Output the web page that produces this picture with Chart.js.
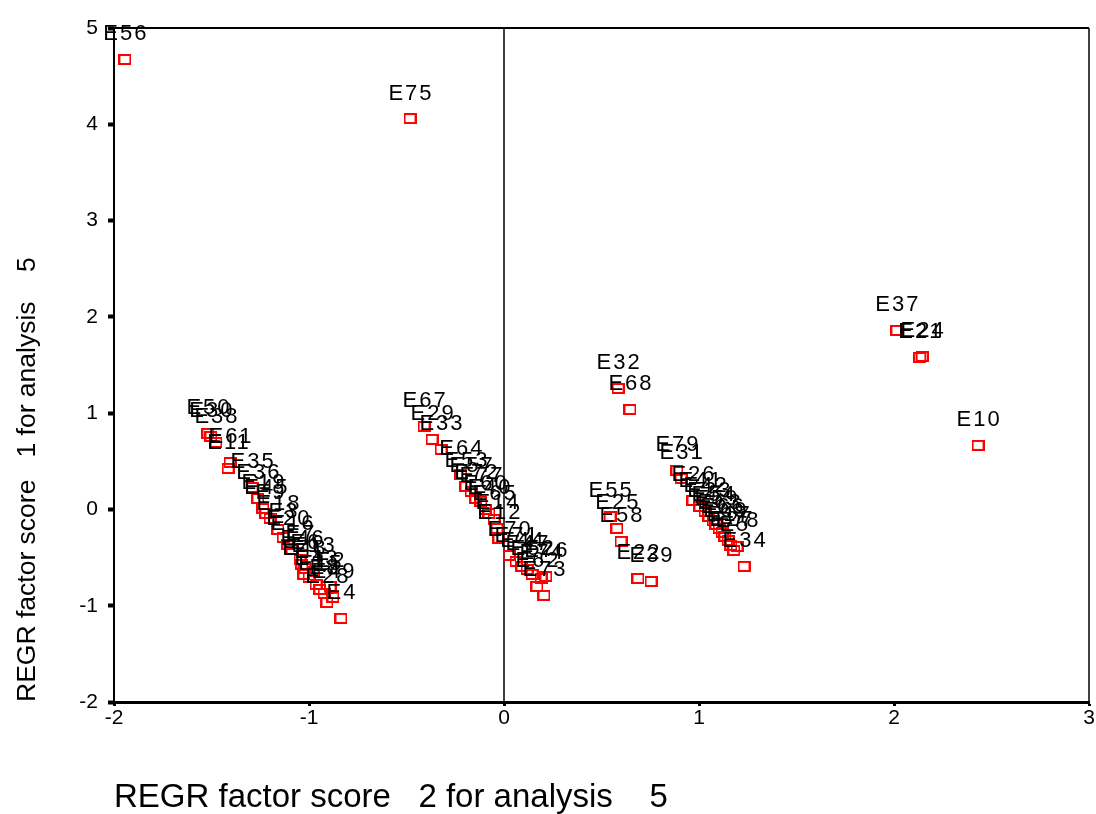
<!DOCTYPE html>
<html>
<head>
<meta charset="utf-8">
<title>REGR factor scores</title>
<script src="https://cdn.jsdelivr.net/npm/chart.js@4"></script>
<style>
    html, body { margin: 0; padding: 0; background: #ffffff; }
    #wrap { width: 1096px; height: 814px; }
</style>
</head>
<body>
<div id="wrap"><canvas id="scoreChart" width="1096" height="814"></canvas></div>
<script>
// case labels and factor scores (factor 2 on x, factor 1 on y)
const caseLabels = [
    'E56', 'E75', 'E37', 'E21', 'E24', 'E10', 'E32', 'E68',
    'E50', 'E30', 'E38', 'E61', 'E11', 'E35', 'E36', 'E19', 'E45', 'E9',
    'E18', 'E3', 'E20', 'E16', 'E7', 'E46', 'E6', 'E48', 'E1', 'E13',
    'E43', 'E15', 'E8', 'E28', 'E4', 'E49', 'E2',
    'E67', 'E29', 'E33', 'E64', 'E53', 'E57', 'E72', 'E77', 'E60', 'E40',
    'E65', 'E14', 'E12', 'E70', 'E71', 'E44', 'E47', 'E52', 'E62', 'E73',
    'E74', 'E76',
    'E55', 'E25', 'E58', 'E22', 'E39',
    'E79', 'E31', 'E26', 'E41', 'E42', 'E23', 'E54', 'E59', 'E63', 'E66',
    'E69', 'E17', 'E27', 'E5', 'E78', 'E34'
];

const factor2Scores = [
    -1.944, -0.482, 2.015, 2.133, 2.144, 2.431, 0.585, 0.646,
    -1.518, -1.503, -1.477, -1.405, -1.415, -1.292, -1.262, -1.236, -1.221, -1.200,
    -1.159, -1.133, -1.108, -1.087, -1.046, -1.036, -1.021, -1.026, -1.000, -0.979,
    -0.964, -0.944, -0.923, -0.908, -0.836, -0.877, -0.892,
    -0.410, -0.369, -0.323, -0.221, -0.195, -0.169, -0.144, -0.118, -0.097, -0.077,
    -0.051, -0.036, -0.026, 0.026, 0.062, 0.092, 0.118, 0.144, 0.169, 0.205,
    0.190, 0.215,
    0.544, 0.579, 0.600, 0.687, 0.754,
    0.887, 0.908, 0.969, 1.005, 1.031, 1.051, 1.072, 1.087, 1.103, 1.118,
    1.133, 1.149, 1.164, 1.179, 1.195, 1.231
];

const factor1Scores = [
    4.673, 4.060, 1.859, 1.578, 1.589, 0.665, 1.256, 1.038,
    0.789, 0.758, 0.696, 0.488, 0.426, 0.228, 0.114, 0.010, -0.042, -0.093,
    -0.208, -0.291, -0.363, -0.415, -0.519, -0.571, -0.613, -0.675, -0.706, -0.644,
    -0.779, -0.831, -0.872, -0.966, -1.132, -0.914, -0.800,
    0.862, 0.727, 0.623, 0.363, 0.239, 0.187, 0.114, 0.083, 0.000, -0.042,
    -0.104, -0.197, -0.301, -0.478, -0.540, -0.592, -0.623, -0.675, -0.800, -0.893,
    -0.717, -0.696,
    -0.073, -0.197, -0.332, -0.717, -0.748,
    0.405, 0.322, 0.093, 0.031, -0.021, -0.073, -0.114, -0.156, -0.197, -0.239,
    -0.280, -0.322, -0.374, -0.426, -0.384, -0.592
];

const xTicks = [-2, -1, 0, 1, 2, 3];
const yTicks = [-2, -1, 0, 1, 2, 3, 4, 5];

const xTitle = 'REGR factor score   2 for analysis    5';
const yTitle = 'REGR factor score   1 for analysis    5';

const points = factor2Scores.map((x, i) => ({ x: x, y: factor1Scores[i] }));

// hollow red box marker
const marker = document.createElement('canvas');
marker.width = 13;
marker.height = 11;
const mctx = marker.getContext('2d');
mctx.strokeStyle = '#ff0000';
mctx.lineWidth = 2;
mctx.strokeRect(1, 1, 11, 9);

const fontFamily = "Arial, 'Liberation Sans', sans-serif";

// case labels above each marker, frame and zero line
const caseLabelPlugin = {
    id: 'caseLabels',
    beforeDatasetsDraw(chart) {
        const { ctx, chartArea, scales } = chart;
        ctx.save();
        ctx.strokeStyle = '#000000';
        ctx.lineWidth = 1.5;
        const zx = scales.x.getPixelForValue(0);
        ctx.beginPath();
        ctx.moveTo(zx, chartArea.top);
        ctx.lineTo(zx, chartArea.bottom);
        ctx.stroke();
        ctx.lineWidth = 2;
        ctx.beginPath();
        ctx.moveTo(chartArea.left, chartArea.top);
        ctx.lineTo(chartArea.right, chartArea.top);
        ctx.stroke();
        ctx.lineWidth = 1.5;
        ctx.beginPath();
        ctx.moveTo(chartArea.right, chartArea.top);
        ctx.lineTo(chartArea.right, chartArea.bottom);
        ctx.stroke();
        ctx.restore();
    },
    afterDatasetsDraw(chart) {
        const { ctx } = chart;
        const meta = chart.getDatasetMeta(0);
        ctx.save();
        ctx.fillStyle = '#000000';
        ctx.font = '22px ' + fontFamily;
        ctx.textAlign = 'center';
        ctx.textBaseline = 'alphabetic';
        if ('letterSpacing' in ctx) ctx.letterSpacing = '2px';
        meta.data.forEach((pt, i) => {
            ctx.fillText(caseLabels[i], pt.x + 1, pt.y - 19);
        });
        ctx.restore();
    }
};

const ctx = document.getElementById('scoreChart').getContext('2d');
new Chart(ctx, {
    type: 'scatter',
    data: {
        datasets: [{
            label: 'cases',
            data: points,
            pointStyle: marker,
            pointRadius: 6,
            pointHoverRadius: 6
        }]
    },
    options: {
        responsive: false,
        animation: false,
        events: [],
        layout: { padding: { top: 28, right: 7, left: 0, bottom: 0 } },
        plugins: {
            legend: { display: false },
            tooltip: { enabled: false }
        },
        scales: {
            x: {
                type: 'linear',
                min: xTicks[0],
                max: xTicks[xTicks.length - 1],
                afterBuildTicks: (scale) => { scale.ticks = xTicks.map(v => ({ value: v })); },
                border: { display: true, color: '#000000', width: 3 },
                grid: {
                    drawOnChartArea: false,
                    drawTicks: true,
                    tickLength: 4,
                    tickWidth: 3,
                    tickColor: '#000000'
                },
                ticks: {
                    color: '#000000',
                    padding: 0,
                    maxRotation: 0,
                    font: { family: fontFamily, size: 21 }
                },
                title: {
                    display: true,
                    text: xTitle,
                    align: 'start',
                    color: '#000000',
                    font: { family: fontFamily, size: 33, lineHeight: 1 },
                    padding: { top: 0, bottom: 0 }
                },
                afterFit: (scale) => { scale.height = 112; }
            },
            y: {
                type: 'linear',
                min: yTicks[0],
                max: yTicks[yTicks.length - 1],
                afterBuildTicks: (scale) => { scale.ticks = yTicks.map(v => ({ value: v })); },
                border: { display: true, color: '#000000', width: 2 },
                grid: {
                    drawOnChartArea: false,
                    drawTicks: true,
                    tickLength: 6,
                    tickWidth: 4,
                    tickColor: '#000000'
                },
                ticks: {
                    color: '#000000',
                    padding: 10,
                    font: { family: fontFamily, size: 21 }
                },
                title: {
                    display: true,
                    text: yTitle,
                    align: 'start',
                    color: '#000000',
                    font: { family: fontFamily, size: 26.5 },
                    padding: { top: 12, bottom: 0 }
                },
                afterFit: (scale) => { scale.width = 114; }
            }
        }
    },
    plugins: [caseLabelPlugin]
});
</script>
</body>
</html>
